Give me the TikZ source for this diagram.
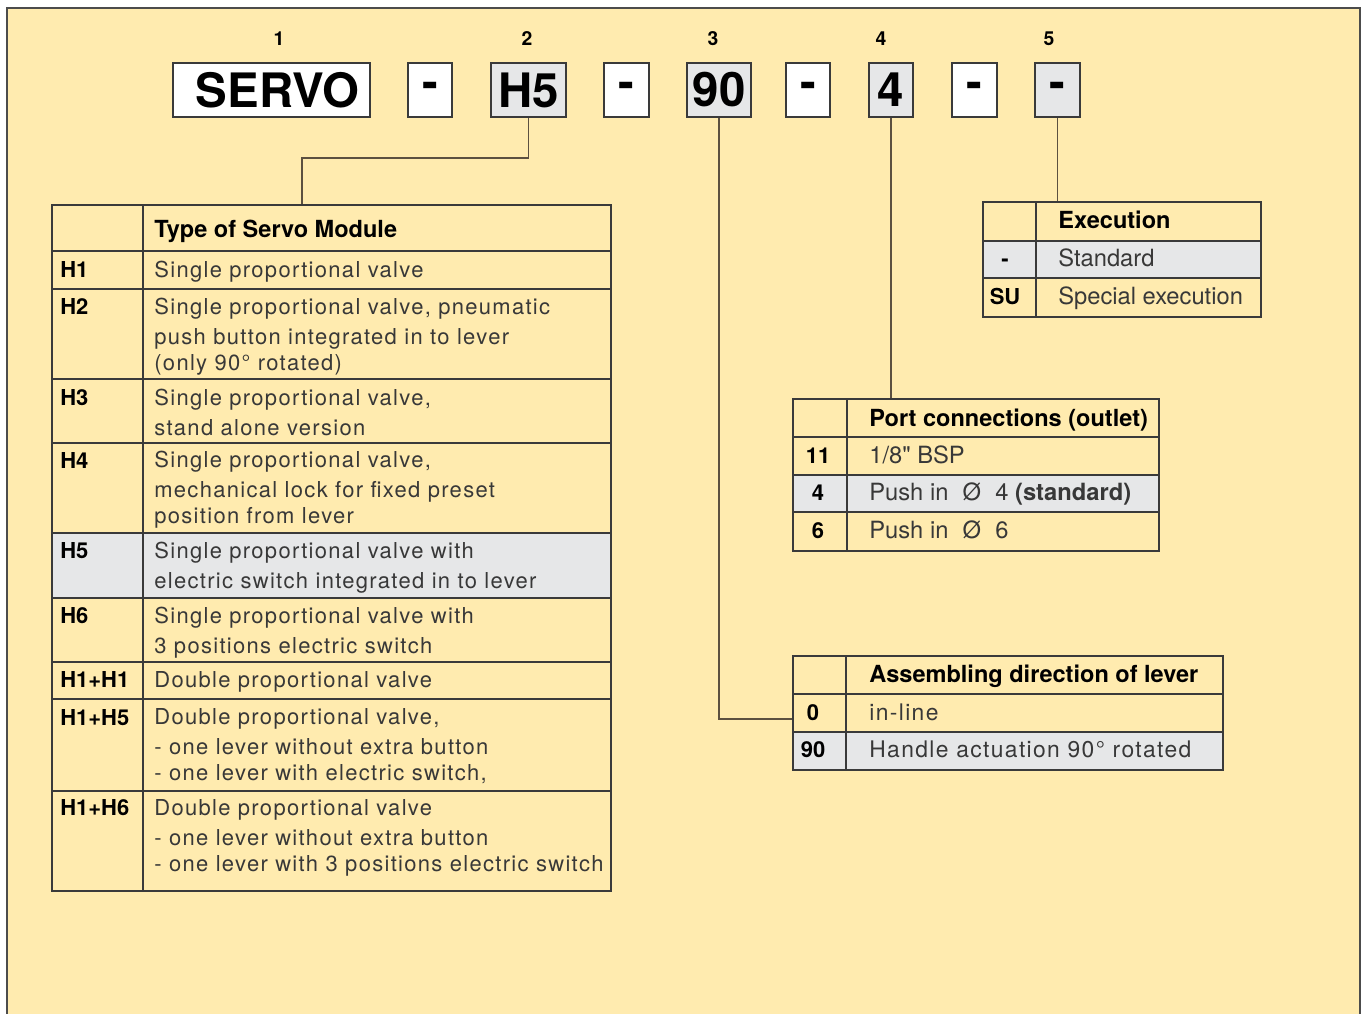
\documentclass[tikz,border=0pt]{standalone}
\usepackage{fontspec}
\setmainfont{TeX Gyre Heros}
\newfontfamily\spacedfont[LetterSpace=6]{TeX Gyre Heros}
\newfontfamily\plainfont[Ligatures=ResetAll]{TeX Gyre Heros}
\usepackage{xcolor}

\definecolor{bgyellow}{HTML}{FFEBAF}
\definecolor{cellgray}{HTML}{E6E7E8}
\definecolor{rulegray}{HTML}{3A3A3A}
\definecolor{linkbrown}{HTML}{5C5040}

\tikzset{
  codebox/.style={draw=rulegray, line width=0.9pt, fill=white, minimum height=1.08cm,
    inner sep=0pt, font=\bfseries\fontsize{27}{27}\selectfont},
  graybox/.style={codebox, fill=cellgray},
  posnum/.style={anchor=base, font=\bfseries\fontsize{11}{11}\selectfont},
  grid/.style={draw=rulegray, line width=0.9pt},
  link/.style={draw=linkbrown, line width=0.9pt},
  hd/.style={anchor=base west, inner sep=0pt, font=\bfseries\fontsize{13.4}{15}\selectfont},
  lbl/.style={anchor=base west, inner sep=0pt, font=\bfseries\fontsize{12.5}{15}\selectfont},
  lblc/.style={lbl, anchor=base},
  txt/.style={anchor=base west, inner sep=0pt, align=left, text=black!78,
    font=\spacedfont\fontsize{12.5}{17}\selectfont},
  txtb/.style={anchor=base west, inner sep=0pt, text=black!78,
    font=\plainfont\fontsize{13.5}{17}\selectfont}
}

\begin{document}
\begin{tikzpicture}[x=0.02cm, y=-0.02cm]
  % Frame
  \clip (0,0) rectangle (1363,1014);
  \draw[line width=1.2pt, draw=black!70, fill=bgyellow] (7,8) rectangle (1360,1040);

  % Code boxes
  \node[codebox, minimum width=3.94cm] (servo) at (271.5,90) {\hspace*{0.24cm}SERVO};
  \node[codebox, minimum width=0.88cm] (dashA) at (430,90) {-};
  \node[graybox, minimum width=1.50cm] (h5) at (528.5,90) {H5};
  \node[codebox, minimum width=0.90cm] (dashB) at (626.5,90) {-};
  \node[graybox, minimum width=1.28cm] (n90) at (719,90) {90};
  \node[codebox, minimum width=0.88cm] (dashC) at (808,90) {-};
  \node[graybox, minimum width=0.88cm] (n4) at (891,90) {4};
  \node[codebox, minimum width=0.90cm] (dashD) at (974.5,90) {-};
  \node[graybox, minimum width=0.90cm] (ex) at (1057.5,90) {-};

  % Position numbers
  \node[posnum] (p1) at (279,45) {1};
  \node[posnum] (p2) at (527,45) {2};
  \node[posnum] (p3) at (713,45) {3};
  \node[posnum] (p4) at (881,45) {4};
  \node[posnum] (p5) at (1049,45) {5};

  % Connectors
  \coordinate (bendType) at (302,158);
  \coordinate (inType) at (302,205);
  \coordinate (inDir) at (793,719);
  \coordinate (inPort) at (888,399);
  \coordinate (inExec) at (1058,202);
  \draw[link] (h5.south) |- (bendType) -- (inType);
  \draw[link] (n90.south) |- (inDir);
  \draw[link] (n4.south) -- (n4.south |- inPort);
  \draw[link] (ex.south) -- (ex.south |- inExec);

  % Type of Servo Module (multi-line texts sit on their last baseline)
  \fill[cellgray] (52,533) rectangle (611,598);
  \draw[grid] (52,205) rectangle (611,891);
  \draw[grid] (143,205) -- (143,891);
  \foreach \y in {251,289,379,443,533,598,662,699,791}
    \draw[grid] (52,\y) -- (611,\y);
  \node[hd] (typeHead) at (154,237) {Type of Servo Module};
  \node[lbl] (kH1) at (60,277) {H1};
  \node[lbl] (kH2) at (60,314) {H2};
  \node[lbl] (kH3) at (60,405) {H3};
  \node[lbl] (kH4) at (60,468) {H4};
  \node[lbl] (kH5) at (60,558) {H5};
  \node[lbl] (kH6) at (60,623) {H6};
  \node[lbl] (kH11) at (60,687) {H1+H1};
  \node[lbl] (kH15) at (60,725) {H1+H5};
  \node[lbl] (kH16) at (60,815) {H1+H6};
  \node[txt] (tH1) at (154,277) {Single proportional valve};
  \node[txt] (tH2) at (154,370) {Single proportional valve, pneumatic\\
    push button integrated in to lever\\[-2.3pt] (only 90° rotated)};
  \node[txt] (tH3) at (154,435) {Single proportional valve,\\ stand alone version};
  \node[txt] (tH4) at (154,523) {Single proportional valve,\\
    mechanical lock for fixed preset\\[-2.3pt] position from lever};
  \node[txt] (tH5) at (154,588) {Single proportional valve with\\
    electric switch integrated in to lever};
  \node[txt] (tH6) at (154,653) {Single proportional valve with\\
    3 positions electric switch};
  \node[txt] (tH11) at (154,687) {Double proportional valve};
  \node[txt] (tH15) at (154,780) {Double proportional valve,\\
    - one lever without extra button\\[-2.3pt] - one lever with electric switch,};
  \node[txt] (tH16) at (154,871) {Double proportional valve\\
    - one lever without extra button\\[-2.3pt] - one lever with 3 positions electric switch};

  % Execution
  \fill[cellgray] (983,241) rectangle (1261,278);
  \draw[grid] (983,202) rectangle (1261,317);
  \draw[grid] (1036,202) -- (1036,317);
  \foreach \y in {241,278}
    \draw[grid] (983,\y) -- (1261,\y);
  \node[hd] (execHead) at (1058,228) {Execution};
  \node[lblc] (kStd) at (1005,266) {-};
  \node[lblc] (kSU) at (1005,304) {SU};
  \node[txtb] (tStd) at (1058,266) {Standard};
  \node[txtb] (tSU) at (1058,304) {Special execution};

  % Port connections
  \fill[cellgray] (793,475) rectangle (1159,512);
  \draw[grid] (793,399) rectangle (1159,551);
  \draw[grid] (847,399) -- (847,551);
  \foreach \y in {437,475,512}
    \draw[grid] (793,\y) -- (1159,\y);
  \node[hd] (portHead) at (869,426) {Port connections (outlet)};
  \node[lblc] (k11) at (818,463) {11};
  \node[lblc] (k4) at (818,500) {4};
  \node[lblc] (k6) at (818,538) {6};
  \node[txtb] (t11) at (869,463) {1/8" BSP};
  \node[txtb] (t4) at (869,500) {Push in\hspace{0.6em}Ø\hspace{0.6em}4 \textbf{(standard)}};
  \node[txtb] (t6) at (869,538) {Push in\hspace{0.6em}Ø\hspace{0.6em}6};

  % Assembling direction
  \fill[cellgray] (793,732) rectangle (1223,770);
  \draw[grid] (793,656) rectangle (1223,770);
  \draw[grid] (846,656) -- (846,770);
  \foreach \y in {694,732}
    \draw[grid] (793,\y) -- (1223,\y);
  \node[hd] (dirHead) at (869,682) {Assembling direction of lever};
  \node[lblc] (k0) at (813,720) {0};
  \node[lblc] (k90) at (813,757) {90};
  \node[txt, font=\spacedfont\fontsize{13}{17}\selectfont] (t0) at (869,720) {in-line};
  \node[txt, font=\spacedfont\fontsize{13}{17}\selectfont] (t90) at (869,757) {Handle actuation 90° rotated};
\end{tikzpicture}
\end{document}
